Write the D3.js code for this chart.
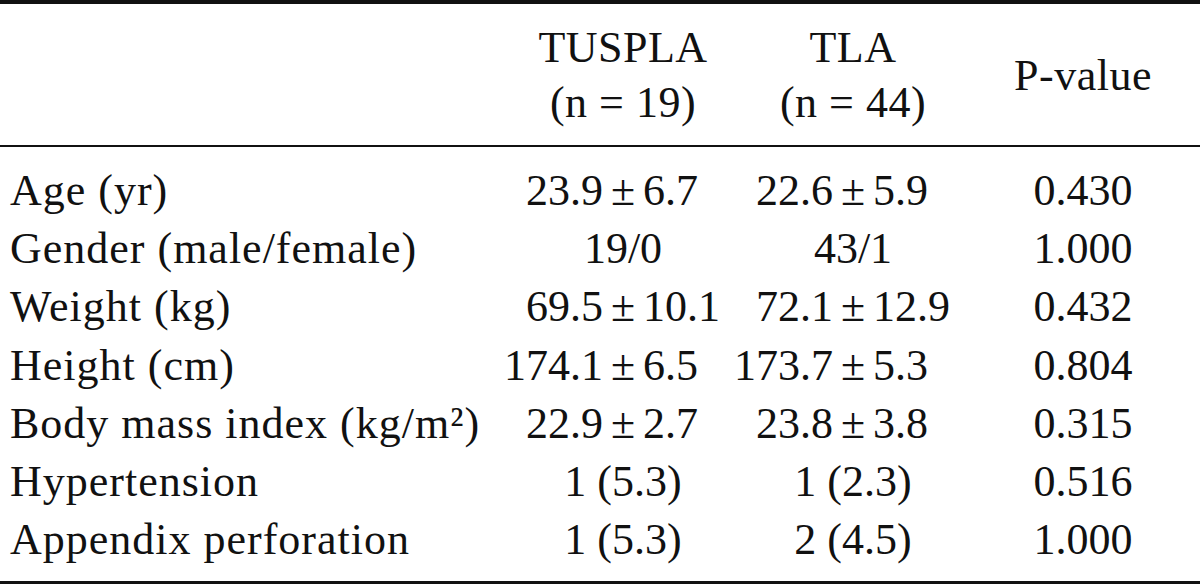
<!DOCTYPE html>
<html>
<head>
<meta charset="utf-8">
<script src="https://cdn.jsdelivr.net/npm/d3@7"></script>
<style>
  html, body { margin: 0; padding: 0; background: #fff; }
  svg { display: block; }
  text { font-family: "Liberation Serif", "DejaVu Serif", serif; fill: #111; }
</style>
</head>
<body>
<svg id="chart" width="1200" height="584"></svg>
<script>
// ---- data ----
const variables = ["Age (yr)", "Gender (male/female)", "Weight (kg)", "Height (cm)",
  "Body mass index (kg/m\u00B2)", "Hypertension", "Appendix perforation"];
const tusplaValues = ["23.9 \u00B1 6.7", "19/0", "69.5 \u00B1 10.1", "174.1 \u00B1 6.5", "22.9 \u00B1 2.7", "1 (5.3)", "1 (5.3)"];
const tlaValues = ["22.6 \u00B1 5.9", "43/1", "72.1 \u00B1 12.9", "173.7 \u00B1 5.3", "23.8 \u00B1 3.8", "1 (2.3)", "2 (4.5)"];
const pValues = ["0.430", "1.000", "0.432", "0.804", "0.315", "0.516", "1.000"];
const columnKeys = ["tuspla", "tla", "p"];
const headerLines = [["TUSPLA", "(n = 19)"], ["TLA", "(n = 44)"], ["P-value"]];

// ---- layout ----
const W = 1200, H = 584;
const fontSize = 44;
const svg = d3.select("#chart");

const x = d3.scaleOrdinal().domain(columnKeys).range([623, 853, 1083]);
const y = d3.scaleLinear().domain([0, variables.length - 1]).range([205, 554]);

// rules
svg.append("rect").attr("x", 0).attr("y", 0).attr("width", W).attr("height", 4).attr("fill", "#111");
svg.append("rect").attr("x", 0).attr("y", 145).attr("width", W).attr("height", 2).attr("fill", "#111");
svg.append("rect").attr("x", 0).attr("y", 581).attr("width", W).attr("height", 3).attr("fill", "#111");

// header
const headerG = svg.append("g");
headerLines.forEach((lines, i) => {
  const key = columnKeys[i];
  const baselines = lines.length === 2 ? [62, 117] : [90];
  lines.forEach((t, j) => {
    headerG.append("text")
      .attr("x", x(key)).attr("y", baselines[j])
      .attr("text-anchor", "middle")
      .attr("font-size", fontSize)
      .attr("letter-spacing", 0.5)
      .text(t);
  });
});

// row labels
svg.append("g").selectAll("text").data(variables).join("text")
  .attr("x", 10).attr("y", (d, i) => y(i))
  .attr("font-size", fontSize)
  .attr("letter-spacing", 1)
  .text(d => d);

// value cells: align on ± where present
function drawColumn(values, key) {
  const g = svg.append("g");
  values.forEach((v, i) => {
    const cx = x(key), cy = y(i);
    if (v.includes("\u00B1")) {
      const [a, b] = v.split("\u00B1").map(s => s.trim());
      g.append("text").attr("x", cx - 20).attr("y", cy).attr("text-anchor", "end").attr("font-size", fontSize).text(a);
      g.append("text").attr("x", cx).attr("y", cy).attr("text-anchor", "middle").attr("font-size", fontSize).text("\u00B1");
      g.append("text").attr("x", cx + 20).attr("y", cy).attr("text-anchor", "start").attr("font-size", fontSize).text(b);
    } else {
      g.append("text").attr("x", cx).attr("y", cy).attr("text-anchor", "middle").attr("font-size", fontSize).text(v);
    }
  });
}
drawColumn(tusplaValues, "tuspla");
drawColumn(tlaValues, "tla");
drawColumn(pValues, "p");
</script>
</body>
</html>
